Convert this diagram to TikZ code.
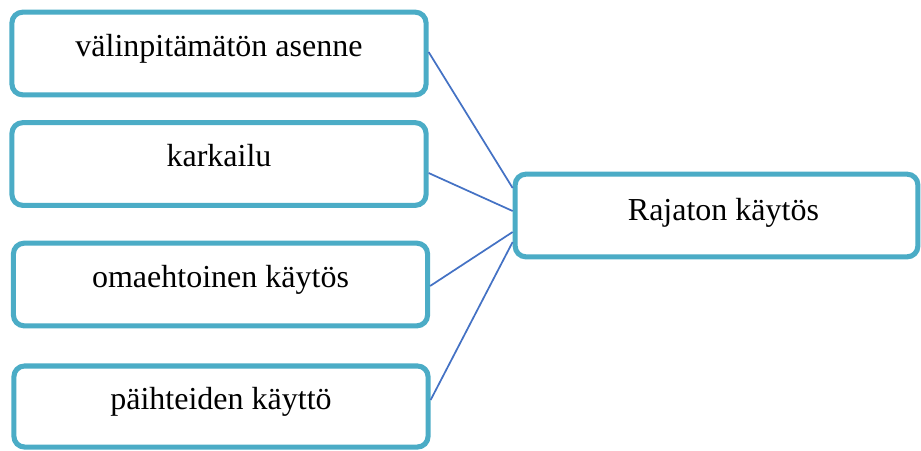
\documentclass[tikz,border=0pt]{standalone}
\usepackage{fontspec}
\setmainfont{Liberation Serif}
\usepackage{xcolor}
\usepackage{tikz}
\usetikzlibrary{calc}

\definecolor{reunavari}{HTML}{4BACC6}
\definecolor{viivavari}{HTML}{4472C4}

\tikzset{
    kortti/.style={draw=reunavari, line width=1.9pt, rounded corners=4pt, fill=white,
        minimum width=155.3pt, minimum height=31pt, font=\fontsize{12}{14}\selectfont,
        text height=8pt, text depth=5.8pt},
    yhteys/.style={draw=viivavari, line width=0.65pt}
}

\begin{document}
\begin{tikzpicture}[x=0.375pt, y=-0.375pt]
        % Fix the page to the size of the reference
        \useasboundingbox (0,0) rectangle (921,450);
        
        % Draw the four boxes on the left
        \node[kortti] (asenne) at (219,53.5) {välinpitämätön asenne};
        \node[kortti] (karkailu) at (219,164) {karkailu};
        \node[kortti] (omaehtoinen) at (220.5,284.5) {omaehtoinen käytös};
        \node[kortti, minimum height=30.4pt] (paihteet) at (221,406.5) {päihteiden käyttö};
        
        % Draw the box on the right
        \node[kortti, minimum width=151pt, text depth=4.4pt] (rajaton) at (716.5,215.5) {\hspace*{5.2pt}Rajaton käytös};
        
        % Join every box on the left to the box on the right
        \draw[yhteys] ($(asenne.east)+(0,-1.5)$) -- ($(rajaton.west)+(0,-27.5)$);
        \draw[yhteys] ($(karkailu.east)+(0,9)$) -- ($(rajaton.west)+(0,-4.5)$);
        \draw[yhteys] ($(omaehtoinen.east)+(0,1.5)$) -- ($(rajaton.west)+(0,16.5)$);
        \draw[yhteys] ($(paihteet.east)+(0,-6.5)$) -- ($(rajaton.west)+(0,26.5)$);
    \end{tikzpicture}
\end{document}
